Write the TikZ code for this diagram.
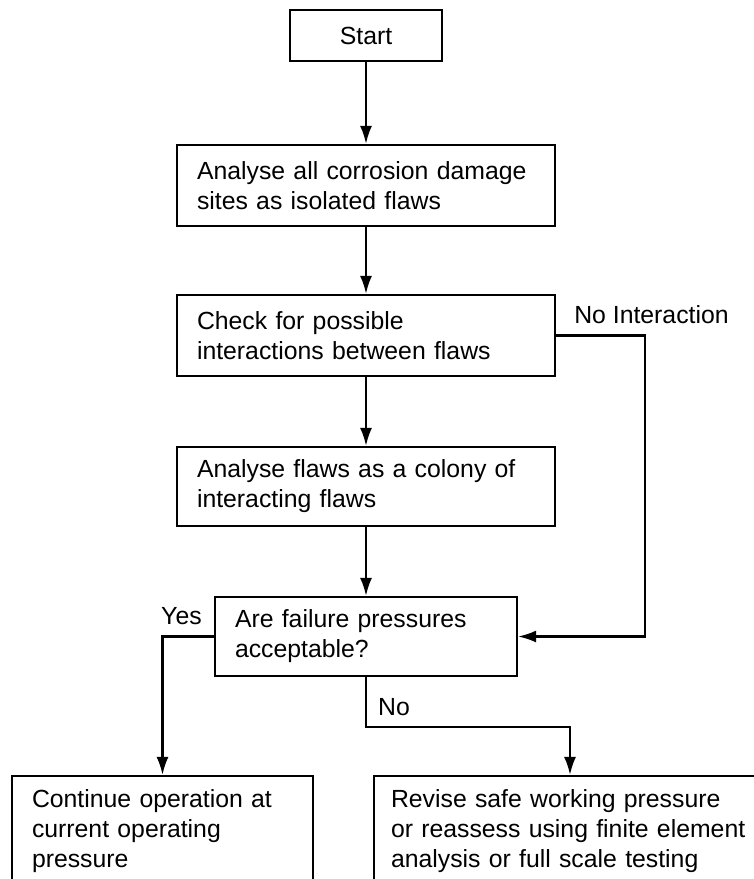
\documentclass[tikz,border=0pt]{standalone}
\usepackage{fontspec}
\setmainfont{Liberation Sans}
\usetikzlibrary{arrows.meta,calc}

\begin{document}
\begin{tikzpicture}[x=1pt,y=-1pt]

	\def\xc{366}
	\def\gap{89}
	\def\drop{50}

	% Styles
	\tikzstyle{box}=[draw, line width=2.2pt, inner xsep=20pt, inner ysep=0pt, align=left, font=\fontsize{24.8}{30}\selectfont]
	\tikzstyle{flow}=[line width=2.2pt, -{Latex[length=18pt,width=12pt]}]
	\tikzstyle{lbl}=[inner sep=0pt, font=\fontsize{24.8}{30}\selectfont]

	% Page
	\useasboundingbox (0,0) rectangle (754,879);
	\clip (0,0) rectangle (754,879);

	% Boxes
	\node[box, align=center, minimum width=152pt, minimum height=51pt] (start) at (\xc,35.5) {Start};
	\node[box, text width=338pt, minimum height=81pt] (analyse) at (\xc,185.5) {Analyse all corrosion damage\\sites as isolated flaws};
	\node[box, text width=338pt, minimum height=81pt] (check) at (\xc,335.5) {Check for possible\\interactions between flaws};
	\node[box, text width=338pt, minimum height=79pt] (colony) at (\xc,486.5) {Analyse flaws as a colony of\\interacting flaws};
	\node[box, text width=262pt, minimum height=79pt] (accept) at (\xc,636.5) {Are failure pressures\\acceptable?};
	\node[box, text width=261pt, minimum height=111pt] (cont) at (162.5,831.5) {Continue operation at\\current operating\\pressure};
	\node[box, inner xsep=17pt, text width=358pt, minimum height=111pt] (revise) at (570,831.5) {Revise safe working pressure\\or reassess using finite element\\analysis or full scale testing};

	% Main flow
	\draw[flow] (start) -- (analyse);
	\draw[flow] (analyse) -- (check);
	\draw[flow] (check) -- (colony);
	\draw[flow] (colony) -- (accept);

	% Branches
	\draw[flow] (check.east) -- ++(\gap,0) |- (accept.east);
	\draw[flow] (accept.west) -| (cont.north);
	\draw[flow] (accept.south) -- ++(0,\drop) -| (revise.north);

	% Labels
	\node[lbl, anchor=base west] (nolbl) at ($(check.east)+(18,-12)$) {No Interaction};
	\node[lbl, anchor=base east] (yeslbl) at ($(accept.west)+(-12,-12)$) {Yes};
	\node[lbl, anchor=base west] (nobranch) at ($(accept.south)+(12,38)$) {No};

\end{tikzpicture}
\end{document}
